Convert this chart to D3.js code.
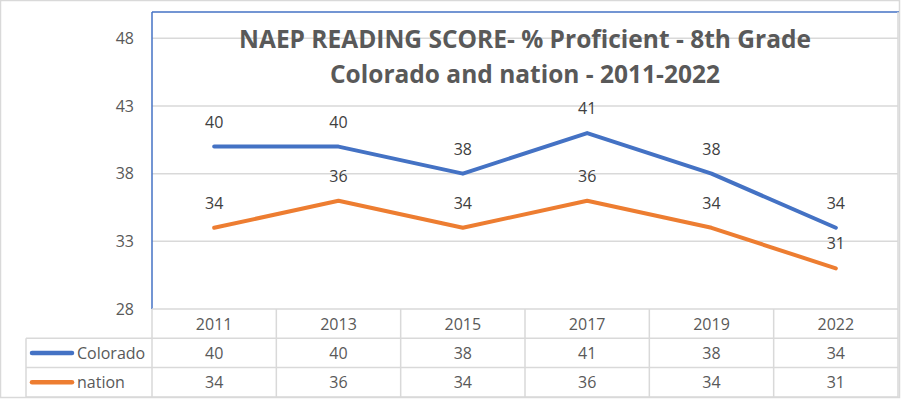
<!DOCTYPE html>
<html><head><meta charset="utf-8">
<script src="https://cdn.jsdelivr.net/npm/d3@7"></script>
<style>body{margin:0;background:#fff}svg{display:block}text{font-family:"Open Sans",sans-serif}</style>
</head><body><svg id="c" width="902" height="399"></svg>
<script>
const categories = ["2011","2013","2015","2017","2019","2022"];
const colorado = [40,40,38,41,38,34];
const nation = [34,36,34,36,34,31];
const yTicks = [28,33,38,43,48];
const seriesNames = ["Colorado","nation"];
const titleLines = ["NAEP READING SCORE- % Proficient - 8th Grade","Colorado and nation - 2011-2022"];

const series = [
  {name: seriesNames[0], values: colorado, color: "#4472C4"},
  {name: seriesNames[1], values: nation, color: "#ED7D31"}
];
const svg = d3.select("#c");
const L = 152, R = 898, T = 12, B = 309;
const x = d3.scaleBand().domain(categories).range([L, R]);
const y = d3.scaleLinear().domain([28, 48]).range([B, 38.3]);

// outer border
svg.append("rect").attr("x",0.5).attr("y",0.5).attr("width",899).attr("height",397)
  .attr("fill","#fff").attr("stroke","#d9d9d9").attr("stroke-width",1.5);

// gridlines
svg.append("g").selectAll("line").data(yTicks.slice(1)).join("line")
  .attr("x1",L).attr("x2",R).attr("y1",d=>y(d)).attr("y2",d=>y(d))
  .attr("stroke","#d9d9d9").attr("stroke-width",1.5);

// plot border (blue top & left)
svg.append("line").attr("x1",L).attr("x2",R+1).attr("y1",T).attr("y2",T).attr("stroke","#4472C4").attr("stroke-width",1.5);
svg.append("line").attr("x1",L).attr("x2",L).attr("y1",T).attr("y2",B).attr("stroke","#4472C4").attr("stroke-width",1.5);

// y axis labels
const yAxis = d3.axisLeft(y).tickValues(yTicks).tickSize(0).tickPadding(18);
const ga = svg.append("g").attr("transform",`translate(${L},0)`).call(yAxis);
ga.select(".domain").remove();
ga.selectAll("text").attr("font-size",16).attr("fill","#595959").attr("font-family","Open Sans, sans-serif");

// title
svg.append("g").selectAll("text").data(titleLines).join("text")
  .attr("x",525).attr("y",(d,i)=>48+i*35).attr("text-anchor","middle")
  .attr("font-size",24.5).attr("font-weight","bold").attr("fill","#595959").text(d=>d);

// lines
const line = d3.line().x((d,i)=>x(categories[i])+x.bandwidth()/2).y(d=>y(d));
series.forEach(s=>{
  svg.append("path").attr("d",line(s.values)).attr("fill","none")
    .attr("stroke",s.color).attr("stroke-width",4).attr("stroke-linejoin","round").attr("stroke-linecap","round");
});
series.forEach(s=>{
  svg.append("g").selectAll("text").data(s.values).join("text")
    .attr("x",(d,i)=>x(categories[i])+x.bandwidth()/2).attr("y",d=>y(d)-19)
    .attr("text-anchor","middle").attr("font-size",16).attr("fill","#404040").text(d=>d);
});

// data table
const rowH = 29.3;
const tg = svg.append("g").attr("stroke","#d9d9d9").attr("stroke-width",1.5);
tg.append("line").attr("x1",L).attr("x2",R).attr("y1",B).attr("y2",B);
[1,2,3].forEach(r=>tg.append("line").attr("x1",26).attr("x2",R).attr("y1",B+r*rowH).attr("y2",B+r*rowH));
tg.append("line").attr("x1",26).attr("x2",26).attr("y1",B+rowH).attr("y2",B+3*rowH);
categories.forEach(c=>tg.append("line").attr("x1",x(c)).attr("x2",x(c)).attr("y1",B).attr("y2",B+3*rowH));
tg.append("line").attr("x1",R).attr("x2",R).attr("y1",T).attr("y2",B+3*rowH);

svg.append("g").selectAll("text").data(categories).join("text")
  .attr("x",c=>x(c)+x.bandwidth()/2).attr("y",B+rowH/2+6).attr("text-anchor","middle")
  .attr("font-size",16).attr("fill","#595959").text(c=>c);

series.forEach((s,r)=>{
  const cy = B+(r+1)*rowH+rowH/2;
  svg.append("line").attr("x1",32).attr("x2",72).attr("y1",cy).attr("y2",cy)
    .attr("stroke",s.color).attr("stroke-width",4.5).attr("stroke-linecap","round");
  svg.append("text").attr("x",77).attr("y",cy+6).attr("font-size",16).attr("fill","#595959").text(s.name);
  svg.append("g").selectAll("text").data(s.values).join("text")
    .attr("x",(d,i)=>x(categories[i])+x.bandwidth()/2).attr("y",cy+6).attr("text-anchor","middle")
    .attr("font-size",16).attr("fill","#595959").text(d=>d);
});
</script></body></html>
